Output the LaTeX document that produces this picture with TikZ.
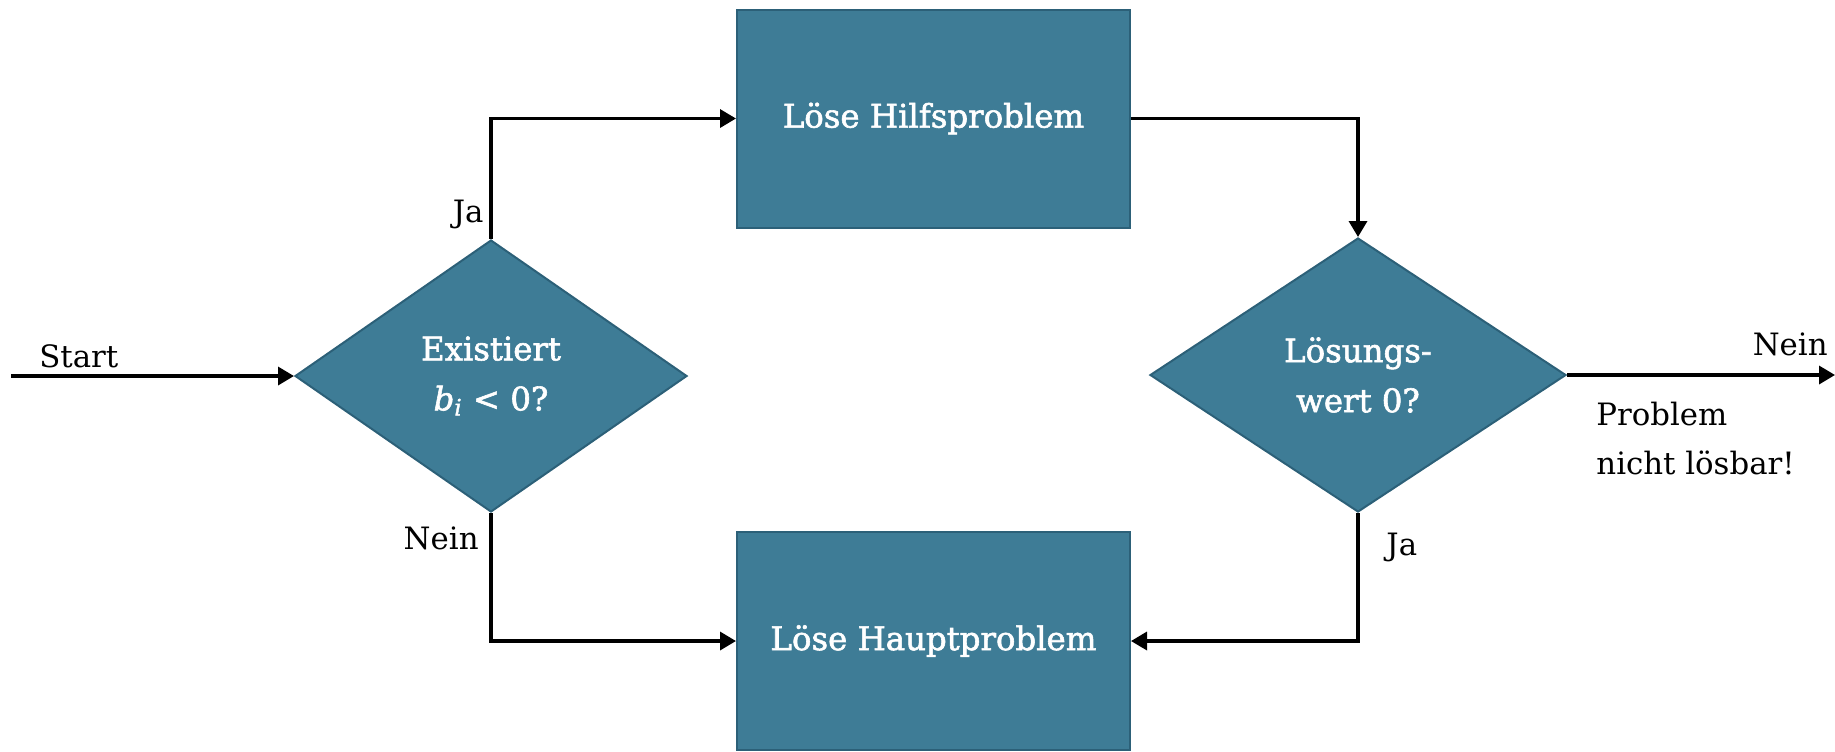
\documentclass[tikz,border=0pt]{standalone}
\usepackage{fontspec}
\setmainfont{DejaVu Serif}
\newfontfamily\boxfont[FakeBold=1.8]{DejaVu Serif}
\usetikzlibrary{shapes.geometric,arrows.meta}
\definecolor{tealfill}{HTML}{3E7C96}
\definecolor{tealline}{HTML}{2C6078}
\begin{document}
\begin{tikzpicture}[x=0.5pt,y=-0.5pt,
  proc/.style={rectangle, fill=tealfill, draw=tealline, line width=1pt,
    minimum width=196.5pt, minimum height=109pt, inner sep=0pt, text=white,
    font=\boxfont\fontsize{16.2}{20}\selectfont},
  decide/.style={diamond, fill=tealfill, draw=tealline, line width=1pt,
    inner sep=0pt, text=white, align=center,
    font=\boxfont\fontsize{16.2}{25}\selectfont},
  conn/.style={line width=1.7pt, -{Triangle[length=8pt,width=9pt]}},
  lbl/.style={font=\fontsize{15.4}{24.5}\selectfont, inner sep=0pt}]
\useasboundingbox (0,0) rectangle (1835,751);

% nodes
\node[proc] (b1) at (933.5,118.5) {Löse Hilfsproblem};
\node[proc] (b2) at (933.5,641) {Löse Hauptproblem};
\node[decide, minimum width=196pt, minimum height=136pt] (d1) at (491,376)
  {Existiert\\\textit{b}\textsubscript{\textit{i}}\ <\ 0?};
\node[decide, minimum width=208pt, minimum height=137pt] (d2) at (1358,375)
  {Lösungs-\\wert 0?};

\coordinate (start) at (11,376);
\coordinate (finish) at (1835,375);

% connectors
\draw[conn] (start) -- (d1.west);
\draw[conn] (d1.north) |- (b1.west);
\draw[conn] (d1.south) |- (b2.west);
\draw[conn] (b1.east) -| (d2.north);
\draw[conn] (d2.south) |- (b2.east);
\draw[conn] (d2.east) -- (finish);

% labels
\node[lbl, anchor=base west] (lstart) at (39,367) {Start};
\node[lbl, anchor=base east] (lja1) at (484,222) {Ja};
\node[lbl, anchor=base east] (lnein1) at (479,549) {Nein};
\node[lbl, anchor=base west] (lja2) at (1386,555) {Ja};
\node[lbl, anchor=base east] (lnein2) at (1828,355) {Nein};
\node[lbl, anchor=north west, align=left] (lnot) at (1596,402)
  {Problem\\nicht lösbar!};
\end{tikzpicture}
\end{document}
